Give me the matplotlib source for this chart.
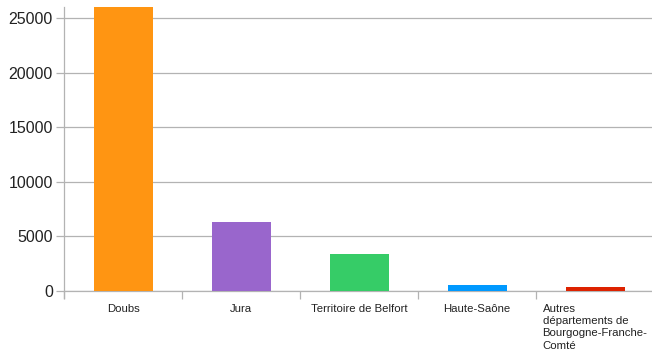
import matplotlib
matplotlib.use("Agg")
import matplotlib.pyplot as plt
from matplotlib.ticker import FixedLocator, NullFormatter

categories = ["Doubs", "Jura", "Territoire de Belfort", "Haute-Saône",
              "Autres\ndépartements de\nBourgogne-Franche-\nComté"]
values = [26100, 6300, 3390, 550, 370]
colors = ["#ff9512", "#9966cc", "#36cc67", "#0099ff", "#dd2200"]
yticks = [0, 5000, 10000, 15000, 20000, 25000]

plt.rcParams['font.family'] = ['Liberation Sans', 'DejaVu Sans']

fig = plt.figure(figsize=(6.52, 3.51), dpi=100)
ax = fig.add_axes([64/652, 60/351, 590/652, 284/351])

x = list(range(len(categories)))
ax.bar(x, values, width=0.5, color=colors, zorder=3)

ax.set_xlim(-0.5, len(categories) - 0.5)
ax.set_ylim(0, 26000)
ax.set_yticks(yticks)
ax.set_yticklabels([str(v) for v in yticks], fontsize=11.5, color="#222222")
ax.yaxis.grid(True, color="#b3b3b3", linewidth=0.9, zorder=0)
ax.tick_params(axis='y', length=6, color="#b3b3b3", width=0.9, pad=2)

ax.set_xticks(x)
ax.set_xticklabels(categories, fontsize=8.2, color="#222222", multialignment='left',
                   va='top', linespacing=1.3)
ax.tick_params(axis='x', length=0, pad=9)
ax.xaxis.set_minor_locator(FixedLocator([i - 0.5 for i in range(len(categories))]))
ax.xaxis.set_minor_formatter(NullFormatter())
ax.tick_params(axis='x', which='minor', length=6, color="#b3b3b3", width=0.9)

for s in ["top", "right"]:
    ax.spines[s].set_visible(False)
ax.spines["left"].set_color("#b3b3b3")
ax.spines["bottom"].set_color("#b3b3b3")
ax.spines["left"].set_linewidth(0.9)
ax.spines["bottom"].set_linewidth(0.9)
ax.spines["left"].set_bounds(-600, 26000)
ax.spines["left"].set_clip_on(False)

fig.savefig("out.png", dpi=100)
